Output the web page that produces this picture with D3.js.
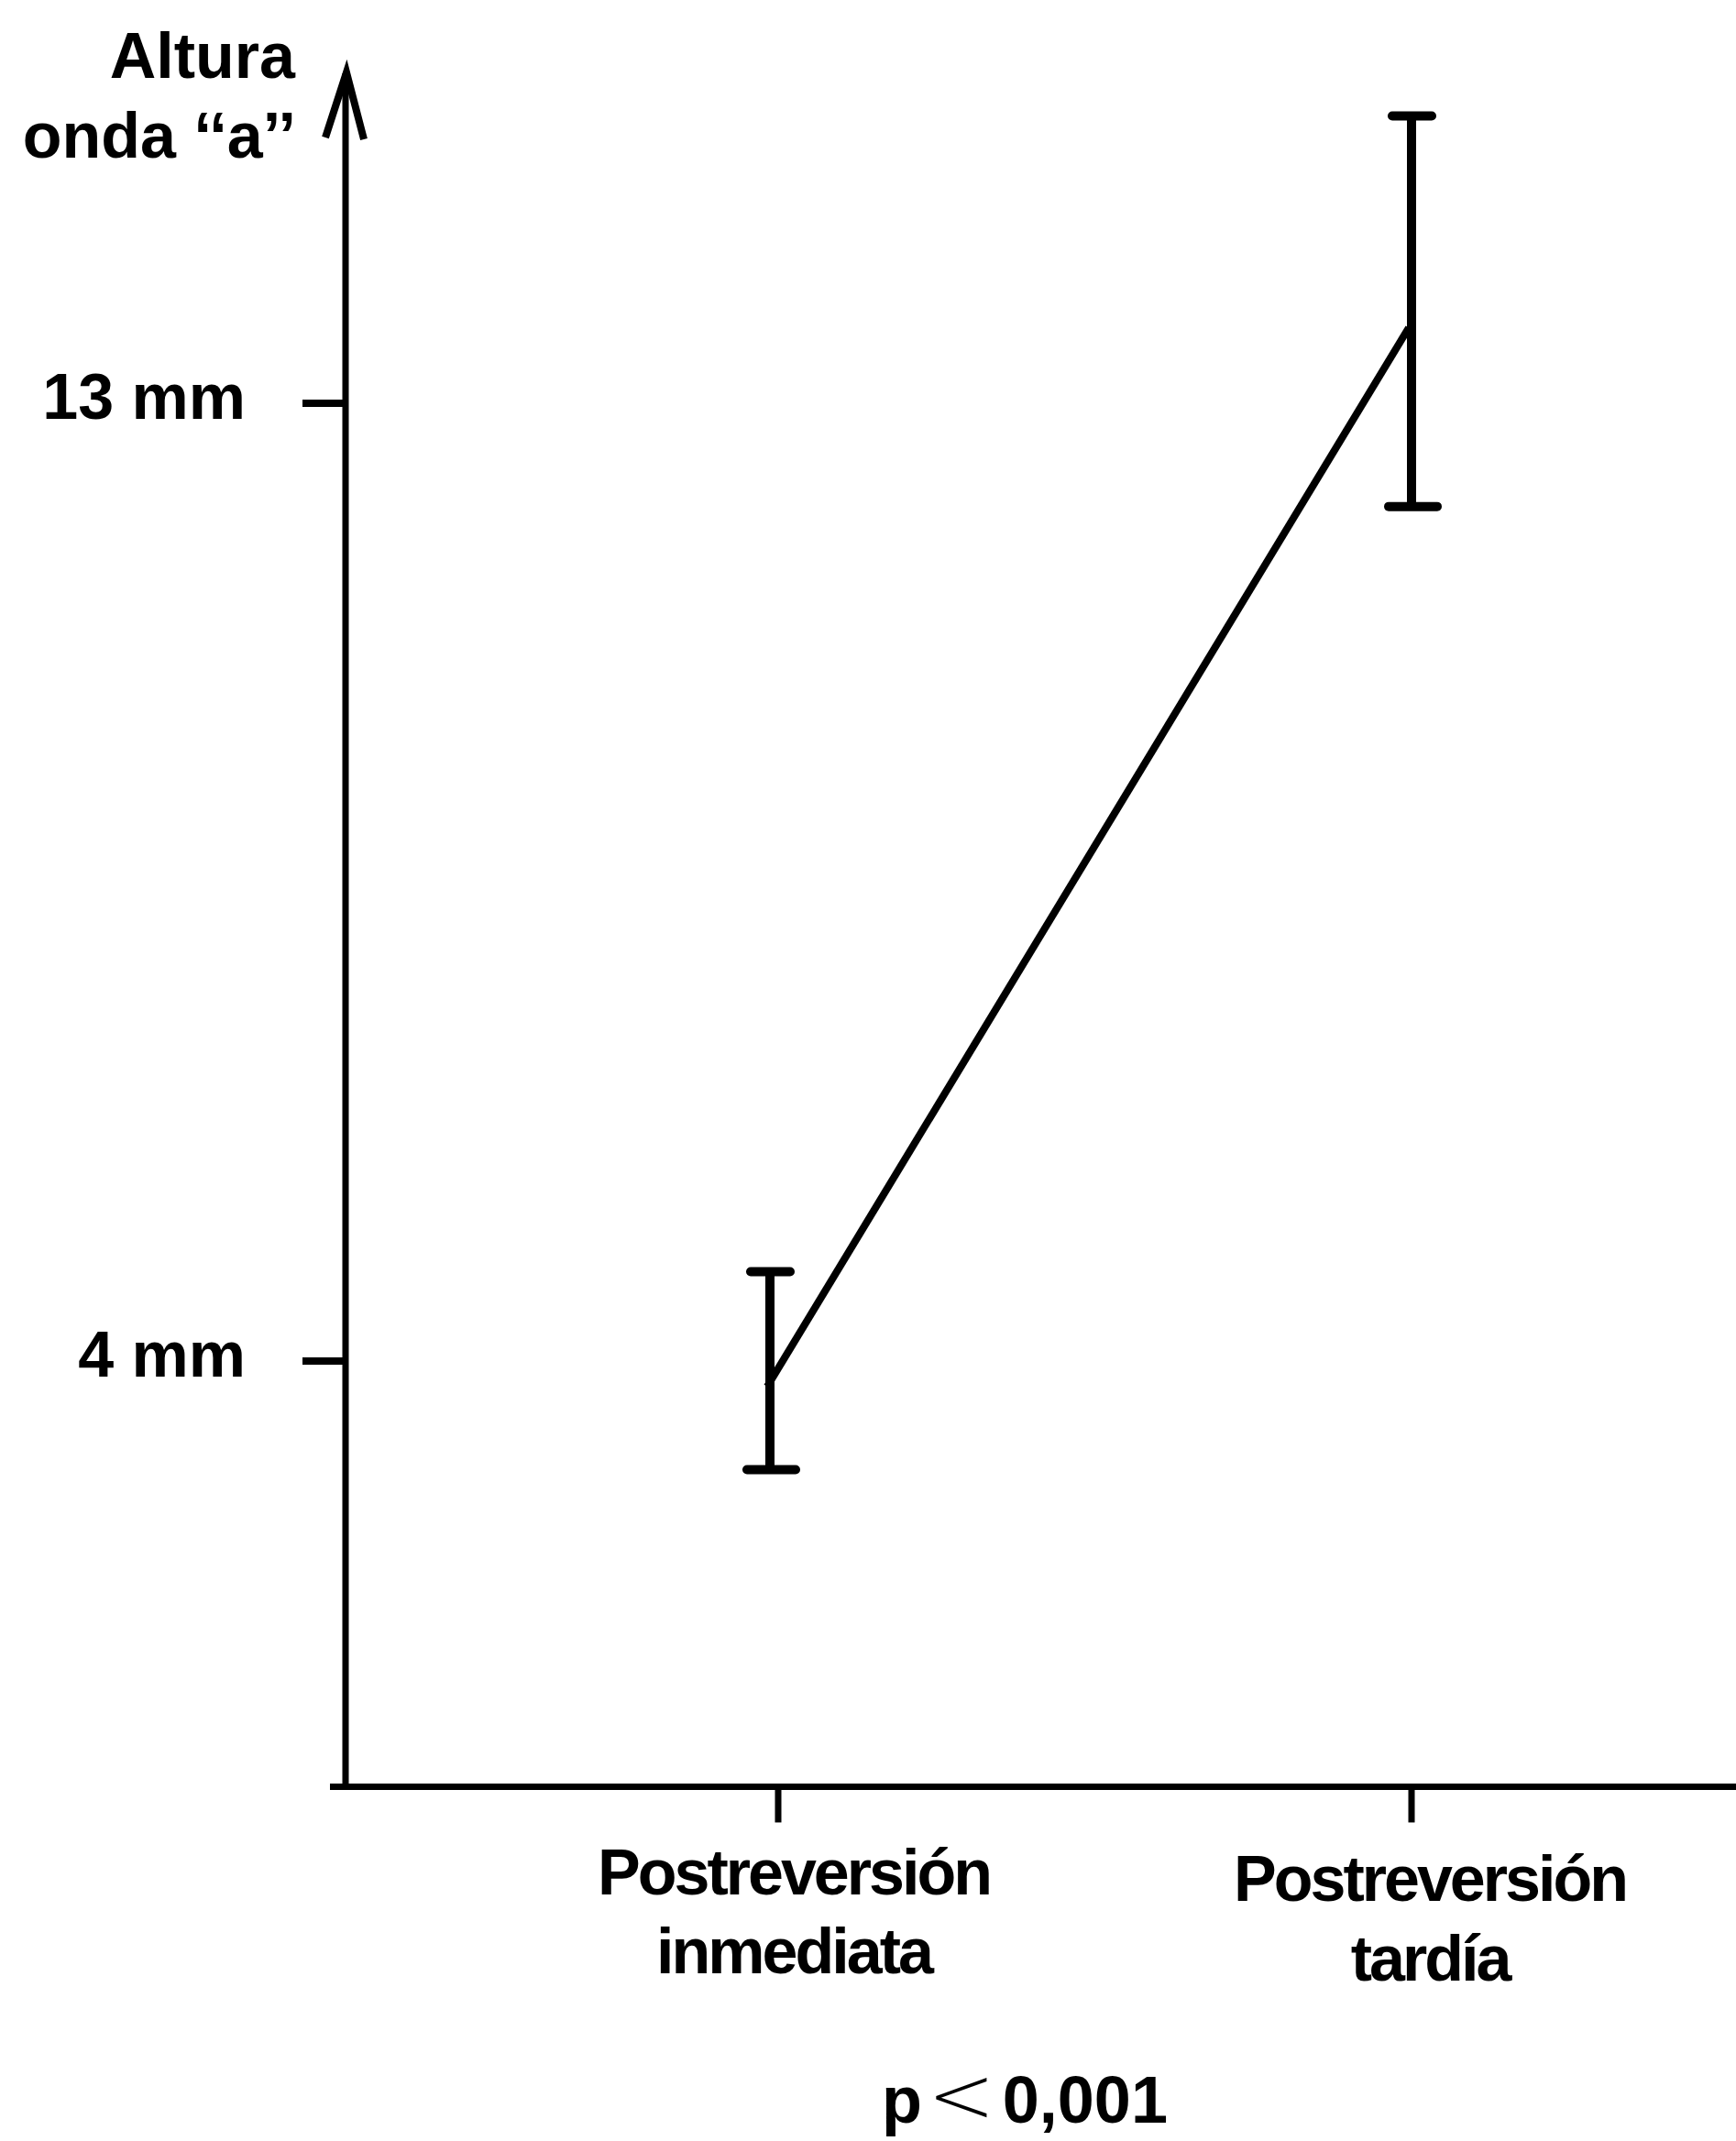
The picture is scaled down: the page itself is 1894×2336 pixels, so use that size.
<!DOCTYPE html>
<html>
<head>
<meta charset="utf-8">
<script src="https://cdn.jsdelivr.net/npm/d3@7"></script>
<style>
  body { margin: 0; background: #fff; }
  text { font-family: 'Liberation Sans', Arial, sans-serif; font-weight: bold; fill: #000; }
</style>
</head>
<body>
<script>
/* global d3 */

const width = 1894
const height = 2336

// data (mm)
const categories = ['inmediata', 'tardia']
const categoryLines = [['Postreversión', 'inmediata'], ['Postreversión', 'tardía']]
const means = [3.76, 13.71]
const upper = [4.84, 15.70]
const lower = [2.98, 12.03]
const yTicks = [4, 13]
const yTickLabels = ['4 mm', '13 mm']
const yTop = 16.1

const x = d3.scalePoint()
  .domain(categories)
  .range([840, 1540])

const y = d3.scaleLinear()
  .domain([4, 13])
  .range([1485, 440])

const svg = d3.select('body').append('svg')
  .attr('width', width)
  .attr('height', height)

svg.append('rect')
  .attr('width', width)
  .attr('height', height)
  .attr('fill', '#fff')

const ink = '#000'

// y axis with open arrow
svg.append('line')
  .attr('x1', 377).attr('x2', 377)
  .attr('y1', y(0) + 3).attr('y2', y(yTop))
  .attr('stroke', ink).attr('stroke-width', 7)

svg.append('path')
  .attr('d', 'M355,' + (y(yTop) + 70) + 'L378,' + (y(yTop) - 1) + 'L397,' + (y(yTop) + 72))
  .attr('fill', 'none')
  .attr('stroke', ink)
  .attr('stroke-width', 8)
  .attr('stroke-linejoin', 'miter')

// x axis
svg.append('line')
  .attr('x1', 360).attr('x2', width)
  .attr('y1', y(0)).attr('y2', y(0))
  .attr('stroke', ink).attr('stroke-width', 7)

// y ticks + labels
svg.selectAll('.ytick')
  .data(yTicks)
  .enter().append('line')
  .attr('class', 'ytick')
  .attr('x1', 330).attr('x2', 377)
  .attr('y1', function (d) { return y(d) })
  .attr('y2', function (d) { return y(d) })
  .attr('stroke', ink).attr('stroke-width', 8)

svg.selectAll('.ylabel')
  .data(yTicks)
  .enter().append('text')
  .attr('class', 'ylabel')
  .attr('x', 268)
  .attr('y', function (d) { return y(d) + 17 })
  .attr('text-anchor', 'end')
  .style('font-size', '70px')
  .text(function (d, i) { return yTickLabels[i] })

// axis title
const title = svg.append('text')
  .attr('text-anchor', 'end')
  .style('font-size', '70px')
title.append('tspan').attr('x', 322).attr('y', 85).text('Altura')
title.append('tspan').attr('x', 323).attr('y', 172).text('onda ‘‘a’’')

// x ticks + labels
svg.selectAll('.xtick')
  .data(categories)
  .enter().append('line')
  .attr('class', 'xtick')
  .attr('x1', function (d, i) { return i === 0 ? 849 : x(d) })
  .attr('x2', function (d, i) { return i === 0 ? 849 : x(d) })
  .attr('y1', y(0)).attr('y2', y(0) + 39)
  .attr('stroke', ink).attr('stroke-width', 7)

const xlab = svg.selectAll('.xlabel')
  .data(categories)
  .enter().append('text')
  .attr('class', 'xlabel')
  .attr('text-anchor', 'middle')
  .style('font-size', '70px')
  .style('letter-spacing', '-3px')

xlab.append('tspan')
  .attr('x', function (d, i) { return i === 0 ? 866 : 1560 })
  .attr('y', function (d, i) { return i === 0 ? 2067 : 2074 })
  .text(function (d, i) { return categoryLines[i][0] })
xlab.append('tspan')
  .attr('x', function (d, i) { return i === 0 ? 866 : 1560 })
  .attr('y', function (d, i) { return i === 0 ? 2153 : 2161 })
  .text(function (d, i) { return categoryLines[i][1] })

// connecting line
const line = d3.line()
  .x(function (d, i) { return x(categories[i]) - 3 })
  .y(function (d) { return y(d) })

svg.append('path')
  .datum(means)
  .attr('d', line)
  .attr('fill', 'none')
  .attr('stroke', ink)
  .attr('stroke-width', 8)

// error bars
const bars = svg.selectAll('.err')
  .data(categories)
  .enter().append('g')
  .attr('class', 'err')

bars.append('line')
  .attr('x1', function (d) { return x(d) })
  .attr('x2', function (d) { return x(d) })
  .attr('y1', function (d, i) { return y(upper[i]) })
  .attr('y2', function (d, i) { return y(lower[i]) })
  .attr('stroke', ink).attr('stroke-width', 10)

bars.append('line')
  .attr('x1', function (d) { return x(d) - 21 })
  .attr('x2', function (d) { return x(d) + 22 })
  .attr('y1', function (d, i) { return y(upper[i]) })
  .attr('y2', function (d, i) { return y(upper[i]) })
  .attr('stroke', ink).attr('stroke-width', 10).attr('stroke-linecap', 'round')

bars.append('line')
  .attr('x1', function (d) { return x(d) - 25 })
  .attr('x2', function (d) { return x(d) + 28 })
  .attr('y1', function (d, i) { return y(lower[i]) })
  .attr('y2', function (d, i) { return y(lower[i]) })
  .attr('stroke', ink).attr('stroke-width', 10).attr('stroke-linecap', 'round')

// significance
const p = svg.append('text')
  .attr('x', 1118)
  .attr('y', 2316)
  .attr('text-anchor', 'middle')
  .style('font-size', '72px')
p.append('tspan').text('p')
p.append('tspan')
  .attr('dx', 6)
  .style('font-family', 'DejaVu Sans')
  .style('font-weight', 200)
  .style('font-size', '88px')
  .text('<')
p.append('tspan').attr('dx', 8).text('0,001')
</script>
</body>
</html>
